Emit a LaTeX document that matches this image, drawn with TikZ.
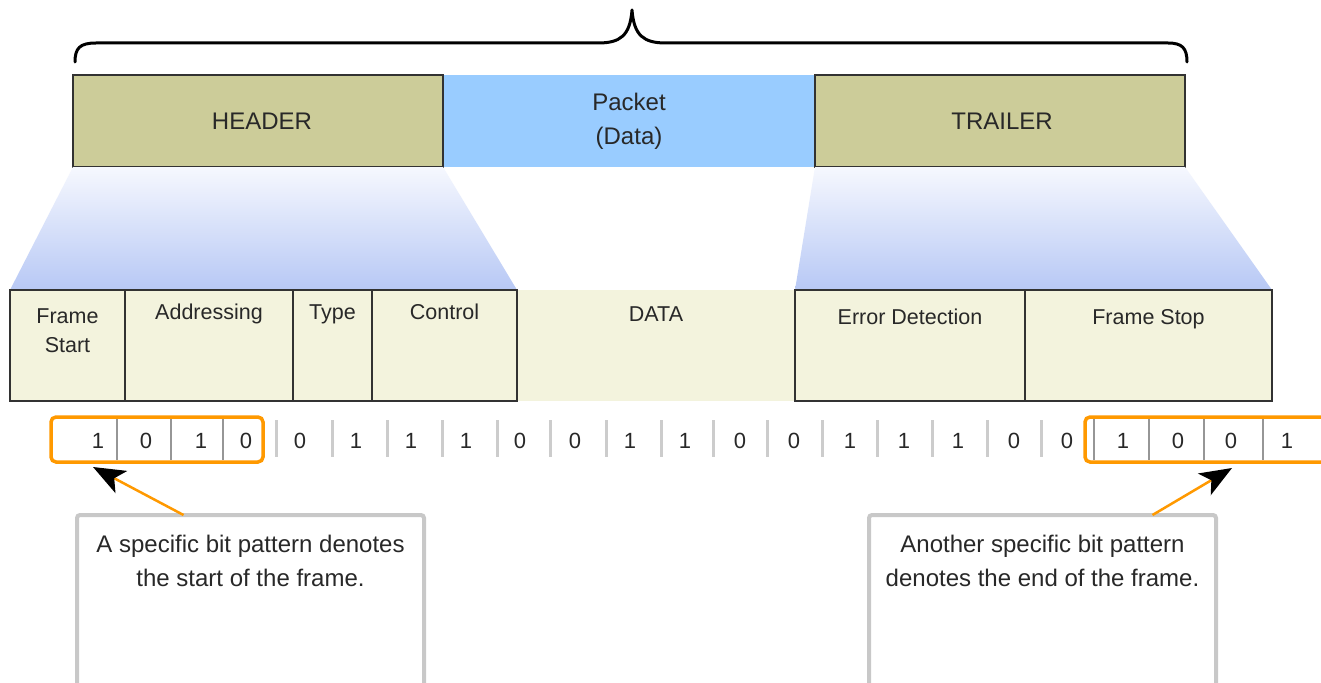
\documentclass[tikz,border=0pt]{standalone}
\usepackage{fontspec}
\setmainfont{Liberation Sans}
\usetikzlibrary{arrows.meta}

\definecolor{khaki}{RGB}{204,204,153}
\definecolor{packetblue}{RGB}{153,204,255}
\definecolor{cream}{RGB}{243,243,221}
\definecolor{zoomtop}{RGB}{246,248,254}
\definecolor{zoommid}{RGB}{221,229,250}
\definecolor{zoombot}{RGB}{183,200,245}
\definecolor{accent}{RGB}{255,153,0}
\definecolor{ink}{RGB}{40,40,40}
\definecolor{edge}{RGB}{50,50,50}
\definecolor{sepgray}{RGB}{204,204,204}
\definecolor{innergray}{RGB}{150,150,150}
\definecolor{notegray}{RGB}{200,200,200}

\begin{document}
\begin{tikzpicture}[x=1pt,y=-1pt,
  every node/.style={text=ink, inner sep=0pt, outer sep=0pt},
  seg/.style={rectangle, minimum width=370pt, minimum height=92pt, anchor=north west,
              font=\fontsize{24}{34}\selectfont, align=center},
  segframe/.style={seg, draw=edge, line width=1.5pt, fill=khaki},
  cell/.style={rectangle, draw=edge, line width=2pt, fill=cream, minimum height=111pt, anchor=north west},
  celltext/.style={font=\fontsize{21.5}{29}\selectfont, align=center, anchor=base},
  bit/.style={font=\fontsize{22}{22}\selectfont, anchor=base},
  bitframe/.style={rectangle, draw=accent, line width=3.5pt, rounded corners=5pt,
                   minimum height=45pt, anchor=north west},
  outersep/.style={draw=sepgray, line width=3pt},
  innersep/.style={draw=innergray, line width=1.2pt},
  note/.style={rectangle, draw=notegray, line width=4pt, rounded corners=3pt, fill=white,
               minimum width=347pt, minimum height=200pt, anchor=north west},
  notetext/.style={font=\fontsize{24}{34}\selectfont, align=center, anchor=base},
  pointer/.style={draw=accent, line width=2.5pt,
                  -{Stealth[length=32pt,width=25pt,inset=8pt,color=black]}},
  bracepen/.style={draw=black, line width=3pt, line cap=round, line join=round}
]
\clip (0,0) rectangle (1321,682);
\fill[white] (0,0) rectangle (1321,682);

% ---- frame fields (drawn first so the zoom wedges can attach to them)
\node[rectangle, fill=cream, minimum height=111pt, minimum width=278pt, anchor=north west]
  (data) at (517,290) {};
\foreach \nm/\xx/\ww in {fstart/10/115, addr/125/168, type/293/79, ctrl/372/145,
                         errdet/795/230, fstop/1025/247}
  \node[cell, minimum width=\ww pt] (\nm) at (\xx,290) {};

% ---- top row: header, packet, trailer
\node[segframe] (header) at (73,75) {\hspace*{8pt}HEADER};
\node[seg, fill=packetblue, minimum width=372pt] (packet) at (443,75) {Packet\\(Data)};
\node[segframe] (trailer) at (815,75) {\hspace*{4pt}TRAILER};
\draw[edge, line width=1.5pt] (header.north east) -- (header.south east);
\draw[edge, line width=1.5pt] (trailer.north west) -- (trailer.south west);

% ---- zoom wedges from header / trailer down to their fields
\shade[top color=zoomtop, middle color=zoommid, bottom color=zoombot]
  (header.south west) -- (header.south east) -- (ctrl.north east) -- (fstart.north west) -- cycle;
\shade[top color=zoomtop, middle color=zoommid, bottom color=zoombot]
  (trailer.south west) -- (trailer.south east) -- (fstop.north east) -- (errdet.north west) -- cycle;

% redraw field tops over the wedges
\draw[edge, line width=2pt] (fstart.north west) -- (ctrl.north east);
\draw[edge, line width=2pt] (errdet.north west) -- (fstop.north east);

% ---- field labels (base anchor sits on the last line)
\node[celltext] at ([yshift=-62pt]fstart.north) {Frame\\Start};
\node[celltext] at ([yshift=-29pt]addr.north) {Addressing};
\node[celltext] at ([yshift=-29pt]type.north) {Type};
\node[celltext] at ([yshift=-29pt]ctrl.north) {Control};
\node[celltext] at ([yshift=-31pt]data.north) {DATA};
\node[celltext] at ([yshift=-34pt]errdet.north) {Error Detection};
\node[celltext] at ([yshift=-34pt]fstop.north) {Frame Stop};

% ---- brace over the whole frame
\coordinate (braceL) at (75,62);
\coordinate (braceTip) at (632,10);
\coordinate (braceR) at (1187,62);
\draw[bracepen] (braceL) .. controls (75,48) and (80,43) .. (96,43) -- (598,43)
  .. controls (620,43) and (630,36) .. (braceTip)
  .. controls (634,36) and (644,43) .. (666,43) -- (1168,43)
  .. controls (1182,43) and (1187,48) .. (braceR);

% ---- bit stream
\foreach \xx in {276,332,387,442,497,550,606,661,713,767,822,877,932,987,1041}
  \draw[outersep] (\xx,420) -- (\xx,457);
\foreach \xx in {117,171,223,1094,1149,1204,1263}
  \draw[innersep] (\xx,419) -- (\xx,460);
\foreach \xx/\b in {98/1,146/0,201/1,246/0,300/0,356/1,411/1,466/1,520/0,575/0,630/1,
                    685/1,740/0,794/0,850/1,904/1,958/1,1014/0,1067/0,1123/1,1178/0,
                    1231/0,1287/1}
  \node[bit] at (\xx,448) {\b};
\node[bitframe, minimum width=212pt] (startbits) at (51,417) {};
\node[bitframe, minimum width=270pt] (stopbits) at (1085,417) {};

% ---- callouts
\node[note] (startnote) at (77,515) {};
\node[notetext] at ([yshift=-71pt]startnote.north)
  {A specific bit pattern denotes\\the start of the frame.};
\node[note] (stopnote) at (869,515) {};
\node[notetext] at ([yshift=-71pt]stopnote.north)
  {Another specific bit pattern\\denotes the end of the frame.};

\coordinate (startTip) at (93,467);
\coordinate (stopTip) at (1232,468);
\draw[pointer] ([xshift=-67pt]startnote.north) -- (startTip);
\draw[pointer] ([xshift=110pt]stopnote.north) -- (stopTip);
\end{tikzpicture}
\end{document}
